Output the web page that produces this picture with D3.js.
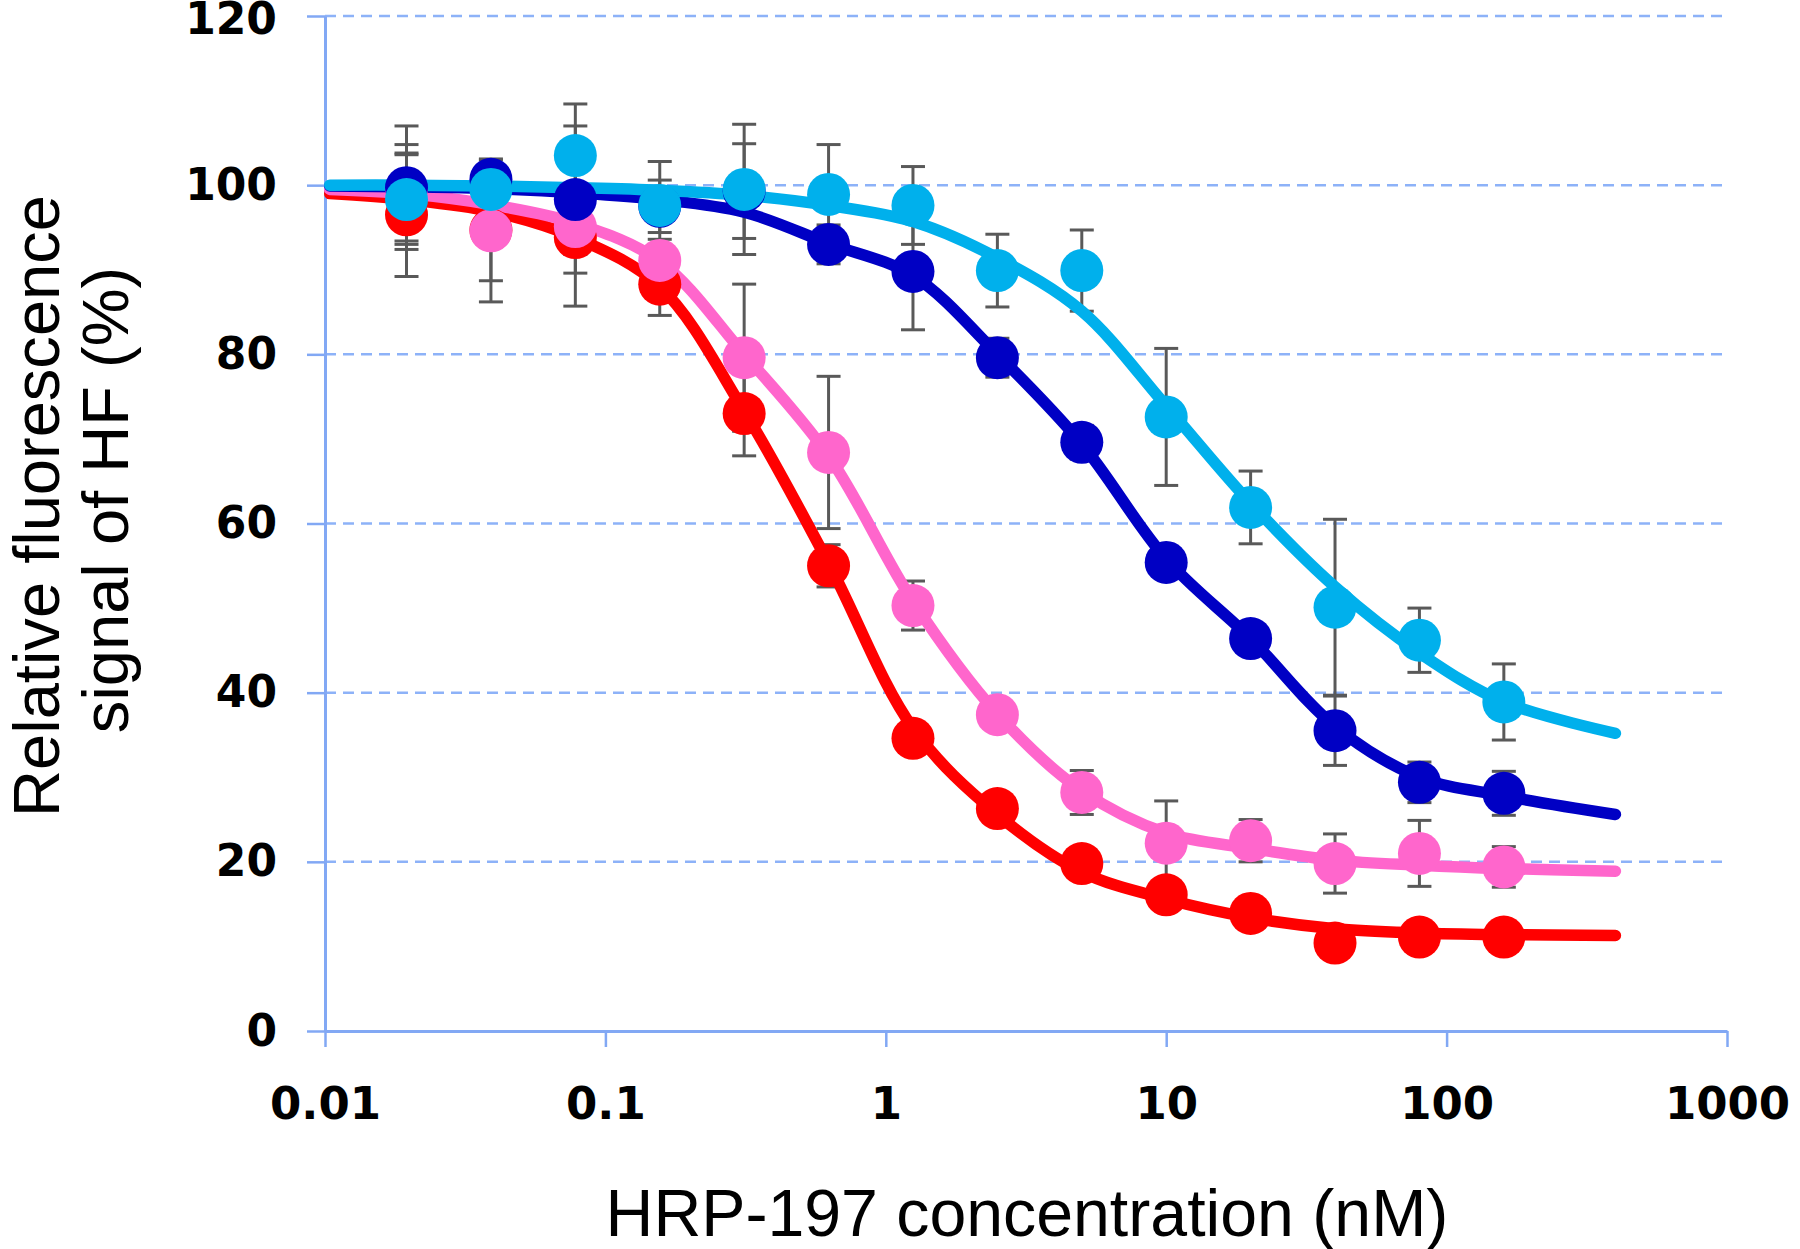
<!DOCTYPE html>
<html>
<head>
<meta charset="utf-8">
<script src="https://cdn.jsdelivr.net/npm/d3@7"></script>
<style>
  html, body { margin: 0; padding: 0; background: #ffffff; }
  svg { display: block; }
</style>
</head>
<body>
<script>
// ---------------- data ----------------
const concentrations = [0.01953, 0.03906, 0.078125, 0.15625, 0.3125, 0.625, 1.25, 2.5, 5, 10, 20, 40, 80, 160];

const redMean  = [96.5, 94.7, 93.8, 88.3, 73.0, 55.0, 34.6, 26.3, 19.8, 16.1, 13.9, 10.4, 11.1, 11.1];
const redSD    = [7.3, 6.0, 2.0, 3.7, 5.0, 2.5, 1.5, 1.5, 1.2, 1.2, 1.0, 1.0, 0.8, 0.8];
const pinkMean = [99.1, 94.6, 95.1, 91.1, 79.6, 68.4, 50.3, 37.4, 28.2, 22.2, 22.5, 19.8, 21.0, 19.4];
const pinkSD   = [5.7, 8.4, 9.4, 2.5, 8.7, 9.0, 2.9, 1.5, 2.6, 5.0, 2.5, 3.5, 3.9, 2.4];
const navyMean = [99.7, 100.7, 98.3, 97.5, 99.3, 93.0, 89.8, 79.6, 69.6, 55.4, 46.4, 35.5, 29.4, 28.1];
const navySD   = [7.3, 2.4, 8.7, 3.1, 5.6, 2.3, 6.9, 2.3, 2.0, 1.5, 1.5, 4.1, 2.4, 2.6];
const cyanMean = [98.3, 99.5, 103.5, 97.6, 99.5, 98.9, 97.6, 89.9, 89.9, 72.6, 61.9, 50.1, 46.2, 38.9];
const cyanSD   = [5.3, 3.0, 6.1, 5.2, 7.7, 5.9, 4.6, 4.3, 4.8, 8.1, 4.3, 10.4, 3.8, 4.5];

// fitted curves, read at these concentrations
const fitX    = [0.0104, 0.01953, 0.03906, 0.078125, 0.15625, 0.3125, 0.625, 1.25, 2.5, 5, 10, 20, 40, 80, 160, 400];
const redFit  = [99.0, 98.3, 96.9, 93.8, 88.0, 73.3, 55.3, 35.8, 25.6, 18.8, 15.6, 13.4, 12.1, 11.6, 11.4, 11.3];
const pinkFit = [99.5, 99.0, 97.7, 95.5, 91.0, 80.0, 68.0, 50.8, 37.5, 28.4, 23.4, 21.6, 20.2, 19.6, 19.2, 18.9];
const navyFit = [99.9, 99.8, 99.6, 99.1, 98.3, 96.8, 93.1, 89.3, 80.0, 69.4, 55.8, 46.4, 36.0, 30.0, 27.8, 25.6];
const cyanFit = [100.0, 100.0, 99.9, 99.7, 99.4, 98.8, 97.6, 95.7, 91.4, 85.1, 73.9, 62.4, 52.5, 44.7, 38.9, 35.2];

const yTicks = [0, 20, 40, 60, 80, 100, 120];
const xTicks = [0.01, 0.1, 1, 10, 100, 1000];
const xTickLabels = ["0.01", "0.1", "1", "10", "100", "1000"];
const xTitle = "HRP-197 concentration (nM)";
const yTitle1 = "Relative fluorescence";
const yTitle2 = "signal of HF (%)";

const series = [
  { name: "red",  color: "#ff0000", mean: redMean,  sd: redSD,  fit: redFit },
  { name: "pink", color: "#ff66cc", mean: pinkMean, sd: pinkSD, fit: pinkFit },
  { name: "navy", color: "#0000c4", mean: navyMean, sd: navySD, fit: navyFit },
  { name: "cyan", color: "#00b0ec", mean: cyanMean, sd: cyanSD, fit: cyanFit }
];

// ---------------- layout ----------------
const W = 1800, H = 1249;
const axisColor = "#82a8f4";
const gridColor = "#8db2f8";

const x = d3.scaleLog().domain([0.01, 1000]).range([325, 1727]);
const y = d3.scaleLinear().domain([0, 120]).range([1031, 16]);

const svg = d3.select("body").append("svg").attr("width", W).attr("height", H);

// gridlines
svg.append("g").selectAll("line").data(yTicks.filter(d => d > 0)).join("line")
  .attr("x1", x(0.01)).attr("x2", x(1000))
  .attr("y1", d => y(d)).attr("y2", d => y(d))
  .attr("stroke", gridColor).attr("stroke-width", 2.5)
  .attr("stroke-dasharray", "11,7");

// y axis
const yAxis = svg.append("g").attr("transform", `translate(${x(0.01)},0)`)
  .call(d3.axisLeft(y).tickValues(yTicks).tickSize(18).tickSizeOuter(0).tickPadding(30).tickFormat(d3.format("d")));
yAxis.select(".domain").attr("stroke", axisColor).attr("stroke-width", 3);
yAxis.selectAll(".tick line").attr("stroke", axisColor).attr("stroke-width", 2.5);
yAxis.selectAll(".tick text")
  .attr("font-family", "'DejaVu Sans', Verdana, sans-serif").attr("font-weight", "bold")
  .attr("font-size", 44).attr("fill", "#000");
// keep the topmost label just inside the page
yAxis.selectAll(".tick text").filter(d => d === 120).attr("dy", "0.40em");

// x axis
const xAxis = svg.append("g").attr("transform", `translate(0,${y(0)})`)
  .call(d3.axisBottom(x).tickValues(xTicks).tickSize(16).tickSizeOuter(0).tickPadding(40)
    .tickFormat((d, i) => xTickLabels[i]));
xAxis.select(".domain").attr("stroke", axisColor).attr("stroke-width", 3);
xAxis.selectAll(".tick line").attr("stroke", axisColor).attr("stroke-width", 2.5);
xAxis.selectAll(".tick text")
  .attr("font-family", "'DejaVu Sans', Verdana, sans-serif").attr("font-weight", "bold")
  .attr("font-size", 45).attr("fill", "#000");

// error bars
const errG = svg.append("g");
const capHalf = 12;
series.forEach(s => {
  const g = errG.append("g");
  concentrations.forEach((c, i) => {
    const cx = x(c), lo = y(s.mean[i] - s.sd[i]), hi = y(s.mean[i] + s.sd[i]);
    g.append("line").attr("x1", cx).attr("x2", cx).attr("y1", lo).attr("y2", hi);
    g.append("line").attr("x1", cx - capHalf).attr("x2", cx + capHalf).attr("y1", lo).attr("y2", lo);
    g.append("line").attr("x1", cx - capHalf).attr("x2", cx + capHalf).attr("y1", hi).attr("y2", hi);
  });
  g.selectAll("line").attr("stroke", "#595959").attr("stroke-width", 3);
});

// fitted curves
const line = d3.line().x(d => x(d[0])).y(d => y(d[1])).curve(d3.curveCatmullRom.alpha(0.5));
series.forEach(s => {
  svg.append("path")
    .datum(fitX.map((c, i) => [c, s.fit[i]]))
    .attr("d", line)
    .attr("fill", "none").attr("stroke", s.color).attr("stroke-width", 11.5)
    .attr("stroke-linecap", "round").attr("stroke-linejoin", "round");
});

// markers
series.forEach(s => {
  svg.append("g").selectAll("circle").data(concentrations).join("circle")
    .attr("cx", d => x(d)).attr("cy", (d, i) => y(s.mean[i])).attr("r", 21.5)
    .attr("fill", s.color);
});

// titles
const titleFont = "'Liberation Sans', Arial, sans-serif";
function fit(sel, width) {
  const len = sel.node().getComputedTextLength();
  const fs = parseFloat(sel.attr("font-size"));
  sel.attr("font-size", fs * width / len);
}
const xt = svg.append("text").attr("x", 1027).attr("y", 1236).attr("text-anchor", "middle")
  .attr("font-family", titleFont).attr("font-size", 60).attr("fill", "#000").text(xTitle);
fit(xt, 843);

const yt1 = svg.append("text").attr("transform", "translate(59,506) rotate(-90)").attr("text-anchor", "middle")
  .attr("font-family", titleFont).attr("font-size", 60).attr("fill", "#000").text(yTitle1);
fit(yt1, 622);
const yt2 = svg.append("text").attr("transform", "translate(128,500) rotate(-90)").attr("text-anchor", "middle")
  .attr("font-family", titleFont).attr("font-size", 60).attr("fill", "#000").text(yTitle2);
yt2.attr("font-size", yt1.attr("font-size"));
</script>
</body>
</html>
